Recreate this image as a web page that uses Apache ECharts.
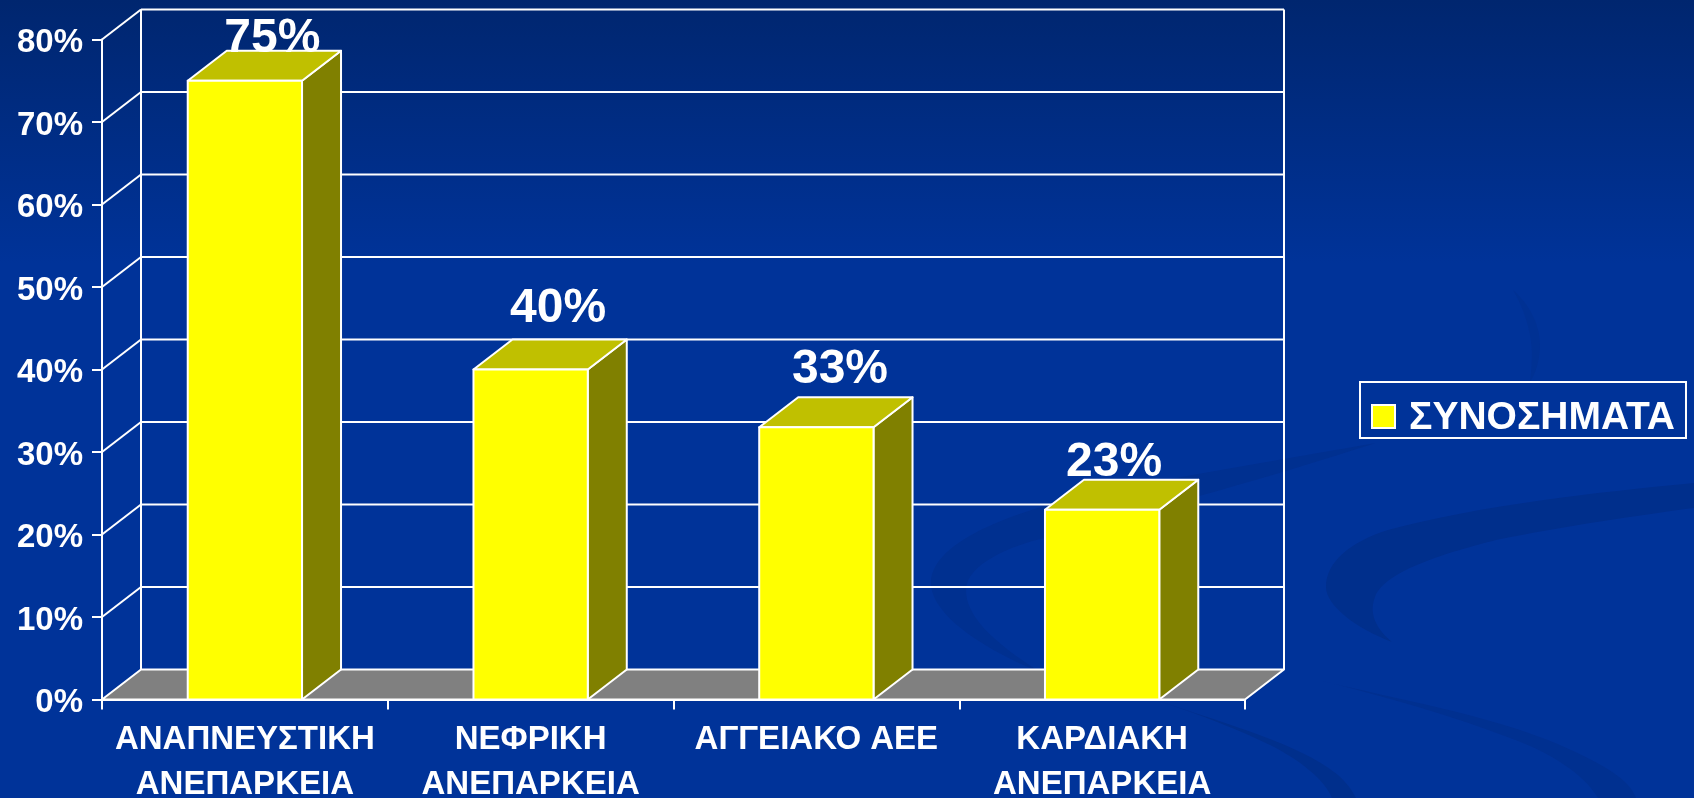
<!DOCTYPE html>
<html>
<head>
<meta charset="utf-8">
<style>html,body{margin:0;padding:0;background:#003399}#chart{width:1694px;height:798px}</style>
<script src="https://cdn.jsdelivr.net/npm/echarts@6/dist/echarts.min.js"></script>
</head>
<body>
<div id="chart"></div>
<script>
const categories = ['ΑΝΑΠΝΕΥΣΤΙΚΗ\nΑΝΕΠΑΡΚΕΙΑ', 'ΝΕΦΡΙΚΗ\nΑΝΕΠΑΡΚΕΙΑ', 'ΑΓΓΕΙΑΚΟ ΑΕΕ', 'ΚΑΡΔΙΑΚΗ\nΑΝΕΠΑΡΚΕΙΑ'];
const seriesName = 'ΣΥΝΟΣΗΜΑΤΑ';
const values = [75, 40, 33, 23];
const valueLabels = ['75%', '40%', '33%', '23%'];
const yTicks = [0, 10, 20, 30, 40, 50, 60, 70, 80];

const depthX = 39, depthY = 30;
const labelShiftX = [27.5, 27.5, 23.6, 12];
const labelShiftY = [-42, -61, -57, -47];
const FONT = '"Liberation Sans", Arial, sans-serif';
const LINE = { stroke: '#ffffff', lineWidth: 2 };

const swooshes = [
  ['M1694 483 C1600 492 1480 505 1388 530 C1350 542 1326 562 1326 587 C1326 605 1355 628 1392 642 C1372 625 1370 610 1375 597 C1385 570 1450 552 1496 540 C1560 527 1640 515 1694 508 Z', '#002f8c'],
  ['M1376 443 C1290 458 1190 475 1110 490 C1020 508 931 540 931 583 C931 615 985 650 1040 672 C990 640 966 615 966 590 C966 565 1010 545 1049 537 C1110 520 1230 490 1376 443 Z', '#003090'],
  ['M1162 702 C1230 725 1300 745 1334 772 C1345 780 1352 790 1356 798 L1332 798 C1325 780 1300 760 1270 745 C1240 730 1200 715 1162 702 Z', '#002f8c'],
  ['M1318 680 C1400 700 1490 715 1560 745 C1605 765 1630 780 1636 798 L1598 798 C1585 775 1550 752 1510 738 C1450 715 1380 695 1318 680 Z', '#003090'],
  ['M1513 290 C1530 305 1540 325 1540 345 C1540 360 1535 375 1530 382 C1532 365 1533 350 1530 335 C1527 320 1522 305 1513 290 Z', '#003193']
];

function poly(points, fill) {
  return { type: 'polygon', shape: { points }, style: { fill, ...LINE, lineJoin: 'round' } };
}

function renderSwoosh(params, api) {
  const s = swooshes[api.value(0)];
  return { type: 'path', shape: { pathData: s[0] }, style: { fill: s[1] } };
}

function renderWall(params, api) {
  const g = params.coordSys;
  const v = api.value(1);
  const y = api.coord([0, v])[1];
  const left = g.x, right = g.x + g.width;
  const children = [];
  if (v === 0) {
    children.push(poly([[left, y], [right, y], [right + depthX, y - depthY], [left + depthX, y - depthY]], '#808080'));
    const topY = api.coord([0, yTicks[yTicks.length - 1]])[1];
    children.push({ type: 'line', shape: { x1: left + depthX, y1: y - depthY, x2: left + depthX, y2: topY - depthY }, style: LINE });
    children.push({ type: 'line', shape: { x1: right + depthX, y1: y - depthY, x2: right + depthX, y2: topY - depthY }, style: LINE });
  } else {
    children.push({ type: 'line', shape: { x1: left, y1: y, x2: left + depthX, y2: y - depthY }, style: LINE });
    children.push({ type: 'line', shape: { x1: left + depthX, y1: y - depthY, x2: right + depthX, y2: y - depthY }, style: LINE });
  }
  return { type: 'group', children };
}

function renderBar(params, api) {
  const i = api.value(0);
  const top = api.coord([i, api.value(1)]);
  const base = api.coord([i, 0]);
  const w = api.size([1, 0])[0] * 0.4;
  const l = top[0] - w / 2, r = top[0] + w / 2;
  return {
    type: 'group',
    children: [
      poly([[r, base[1]], [r + depthX, base[1] - depthY], [r + depthX, top[1] - depthY], [r, top[1]]], '#808000'),
      poly([[l, top[1]], [l + depthX, top[1] - depthY], [r + depthX, top[1] - depthY], [r, top[1]]], '#C0C000'),
      poly([[l, base[1]], [r, base[1]], [r, top[1]], [l, top[1]]], '#FFFF00'),
      {
        type: 'text',
        z2: 10,
        style: {
          x: top[0] + labelShiftX[i],
          y: top[1] + labelShiftY[i],
          text: valueLabels[i],
          fill: '#ffffff',
          font: 'bold 48px ' + FONT,
          align: 'center',
          verticalAlign: 'middle'
        }
      }
    ]
  };
}

const chart = echarts.init(document.getElementById('chart'), null, { renderer: 'canvas' });
chart.setOption({
  animation: false,
  backgroundColor: {
    type: 'linear', x: 0, y: 0, x2: 0, y2: 1,
    colorStops: [{ offset: 0, color: '#00266f' }, { offset: 0.33, color: '#003399' }, { offset: 1, color: '#003399' }]
  },
  grid: { left: 102, top: 39.5, width: 1143, height: 660, outerBoundsMode: 'none', containLabel: false },
  legend: {
    data: [seriesName],
    left: 1360, top: 382,
    padding: [17, 11, 0, 11],
    borderColor: '#ffffff', borderWidth: 2,
    itemWidth: 23, itemHeight: 23, itemGap: 0,
    icon: 'rect',
    itemStyle: { color: '#FFFF00', borderColor: '#ffffff', borderWidth: 2 },
    formatter: name => '{t|' + name + '}',
    textStyle: {
      color: '#ffffff', fontFamily: FONT, fontWeight: 'bold', fontSize: 39,
      rich: { t: { color: '#ffffff', fontFamily: FONT, fontWeight: 'bold', fontSize: 39, padding: [4, 0, 0, 9] } }
    }
  },
  xAxis: {
    type: 'category',
    data: categories,
    axisLine: { lineStyle: { color: '#ffffff', width: 2 } },
    axisTick: { show: true, length: 10, lineStyle: { color: '#ffffff', width: 2 } },
    splitLine: { show: false },
    axisLabel: {
      color: '#ffffff', fontFamily: FONT, fontWeight: 'bold', fontSize: 33,
      lineHeight: 45, margin: 18, interval: 0
    }
  },
  yAxis: {
    type: 'value', min: 0, max: 80, interval: 10,
    axisLine: { show: true, lineStyle: { color: '#ffffff', width: 2 } },
    axisTick: { show: true, length: 10, lineStyle: { color: '#ffffff', width: 2 } },
    splitLine: { show: false },
    axisLabel: {
      color: '#ffffff', fontFamily: FONT, fontWeight: 'bold', fontSize: 33, margin: 19,
      formatter: '{t|{value}%}',
      rich: { t: { color: '#ffffff', fontFamily: FONT, fontWeight: 'bold', fontSize: 33, padding: [7, 0, 0, 0] } }
    }
  },
  series: [
    {
      type: 'custom', name: 'background', silent: true, z: 0, clip: false,
      renderItem: renderSwoosh,
      encode: { x: 0, y: 1 },
      data: swooshes.map((s, i) => [i, 0])
    },
    {
      type: 'custom', name: 'wall', silent: true, z: 1,
      renderItem: renderWall,
      encode: { x: 0, y: 1 },
      data: yTicks.map(t => [0, t])
    },
    {
      type: 'custom', name: seriesName, z: 3,
      itemStyle: { color: '#FFFF00' },
      renderItem: renderBar,
      encode: { x: 0, y: 1 },
      data: values.map((v, i) => [i, v])
    }
  ]
});
</script>
</body>
</html>
